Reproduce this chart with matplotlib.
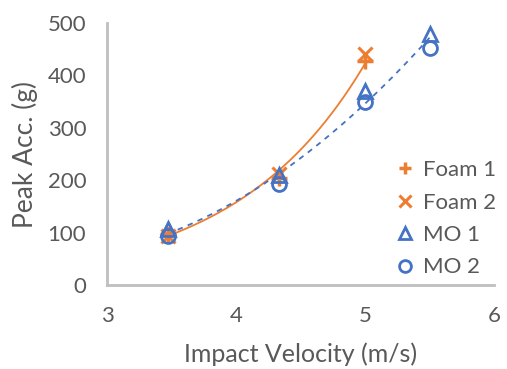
"""Peak acceleration vs impact velocity, foam vs MO samples."""

import matplotlib

matplotlib.use("Agg")
import matplotlib.pyplot as plt
import numpy as np

plt.rcParams.update({"font.family": ["Lato", "DejaVu Sans"], "font.size": 16})

ORANGE = "#ED7D31"
BLUE = "#4472C4"
GREY = "#595959"

foam_v = [3.47, 4.33, 5.0]
foam1_acc = [97, 204, 428]
foam2_acc = [94, 212, 440]
mo_v = [3.47, 4.33, 5.0, 5.5]
mo1_acc = [107, 210, 370, 479]
mo2_acc = [94, 193, 349, 453]

x_ticks = [3, 4, 5, 6]
y_ticks = [0, 100, 200, 300, 400, 500]


def exp_trend(xs, ys):
    # Excel-style exponential trendline: linear fit of ln(y)
    x = np.concatenate(xs)
    slope, icpt = np.polyfit(x, np.log(np.concatenate(ys)), 1)
    grid = np.linspace(x.min(), x.max(), 200)
    return grid, np.exp(icpt + slope * grid)


def poly_trend(xs, ys):
    x = np.concatenate(xs)
    coeff = np.polyfit(x, np.concatenate(ys), 2)
    grid = np.linspace(x.min(), x.max(), 200)
    return grid, np.polyval(coeff, grid)


def main() -> None:
    fig = plt.figure(figsize=(5.07, 3.69), dpi=100)
    ax = fig.add_axes([107 / 507, 84 / 369, 387 / 507, 262 / 369])

    gx, gy = exp_trend([foam_v, foam_v], [foam1_acc, foam2_acc])
    ax.plot(gx, gy, color=ORANGE, lw=1.3, zorder=2)
    gx, gy = poly_trend([mo_v, mo_v], [mo1_acc, mo2_acc])
    ax.plot(gx, gy, color=BLUE, lw=1.3, ls=(0, (3, 3)), zorder=2)

    ax.plot(foam_v, foam1_acc, ls="none", marker="+", ms=11, mew=2.5,
            color=ORANGE, label="Foam 1", zorder=3)
    ax.plot(foam_v, foam2_acc, ls="none", marker="x", ms=10, mew=2.2,
            color=ORANGE, label="Foam 2", zorder=3)
    ax.plot(mo_v, mo1_acc, ls="none", marker="^", ms=10, mew=2,
            mfc="none", color=BLUE, label="MO 1", zorder=3)
    ax.plot(mo_v, mo2_acc, ls="none", marker="o", ms=10, mew=2,
            mfc="none", color=BLUE, label="MO 2", zorder=3)

    ax.set_xlim(3, 6)
    ax.set_ylim(0, 500)
    ax.set_xticks(x_ticks)
    ax.set_yticks(y_ticks)
    ax.tick_params(length=0, colors=GREY, labelsize=16)
    ax.tick_params(axis="y", pad=15)
    ax.tick_params(axis="x", pad=15)
    for side in ("top", "right"):
        ax.spines[side].set_visible(False)
    for side in ("left", "bottom"):
        ax.spines[side].set_color("#BFBFBF")
        ax.spines[side].set_linewidth(2)

    ax.set_xlabel("Impact Velocity (m/s)", color=GREY, fontsize=18, labelpad=12)
    ax.set_ylabel("Peak Acc. (g)", color=GREY, fontsize=19, labelpad=7)

    ax.legend(loc="upper left", bbox_to_anchor=(386 / 507, 1 - 149 / 369),
              bbox_transform=fig.transFigure, frameon=False,
              handlelength=0.7, handletextpad=0.45, labelspacing=0.56,
              borderpad=0, labelcolor=GREY, fontsize=16, markerscale=0.85)

    fig.savefig("out.png", dpi=100)
    plt.close(fig)


if __name__ == "__main__":
    main()
